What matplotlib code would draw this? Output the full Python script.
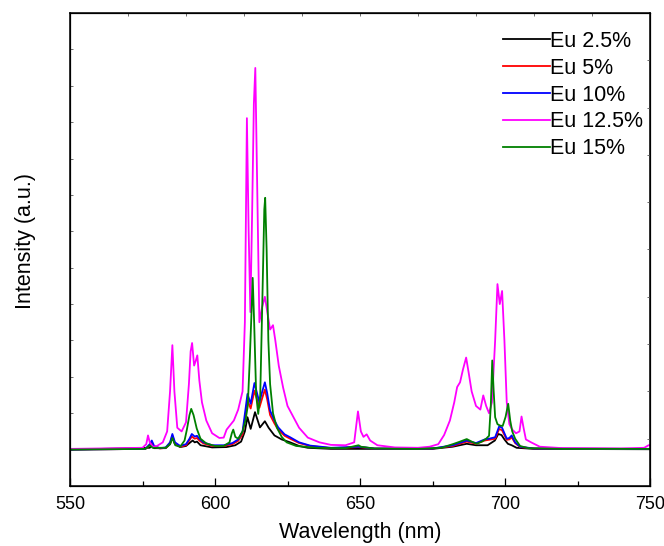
import matplotlib
matplotlib.use("Agg")
import matplotlib.pyplot as plt
import numpy as np

plt.rcParams["font.family"] = ["Liberation Sans", "DejaVu Sans"]

# ── data (intensity in arbitrary units) ───────────────────────────────────────
wl_25 = [550, 577.5, 578.2, 579, 583, 584.5, 585.3, 586.2, 588, 590, 591.5, 592.3, 593, 593.8,
         595, 599, 604, 607, 609, 610.3, 611.2, 612.3, 613.8, 615.5, 617.2, 618.5, 620.5, 623,
         625.9, 629, 632, 640, 675, 682, 686.8, 690, 694, 696.5, 697.7, 698.8, 699.8, 701,
         702.3, 704, 710, 750]
int_25 = [0, 0.05, 0.1, 0.04, 0.04, 0.15, 0.34, 0.15, 0.07, 0.1, 0.2, 0.25, 0.2, 0.22,
          0.12, 0.06, 0.07, 0.12, 0.22, 0.5, 0.89, 0.57, 1.03, 0.61, 0.78, 0.6, 0.39, 0.28,
          0.2, 0.1, 0.05, 0.02, 0.02, 0.08, 0.16, 0.12, 0.12, 0.25, 0.43, 0.4, 0.28, 0.16,
          0.12, 0.05, 0.02, 0.01]

wl_5 = [550, 576, 577.5, 578.2, 579, 581, 583, 584.5, 585.3, 586.2, 588, 590, 591.2, 592.0,
        593, 593.8, 594.6, 596, 599, 603, 606, 608, 609.5, 610.5, 611.2, 612.3, 613.6, 615.3,
        616.3, 617.2, 618, 619, 620.5, 621.8, 624, 625.9, 629, 632.8, 640, 649.5, 655, 675,
        682, 686.8, 690, 693, 694.5, 696.6, 698.0, 699, 700.6, 701.5, 702.3, 703.5, 705.2,
        710, 750]
int_5 = [0, 0.02, 0.12, 0.2, 0.08, 0.03, 0.05, 0.17, 0.38, 0.17, 0.08, 0.12, 0.26, 0.36,
         0.3, 0.32, 0.25, 0.17, 0.1, 0.1, 0.15, 0.24, 0.42, 0.95, 1.35, 1.13, 1.62, 1.15,
         1.42, 1.65, 1.38, 0.95, 0.72, 0.55, 0.38, 0.3, 0.18, 0.1, 0.04, 0.07, 0.03, 0.03,
         0.1, 0.22, 0.16, 0.25, 0.27, 0.3, 0.57, 0.53, 0.27, 0.28, 0.34, 0.18, 0.07,
         0.03, 0.02]

wl_10 = wl_5
int_10 = [0, 0.02, 0.15, 0.25, 0.1, 0.04, 0.06, 0.2, 0.43, 0.2, 0.1, 0.15, 0.3, 0.43,
          0.36, 0.38, 0.3, 0.2, 0.12, 0.12, 0.18, 0.28, 0.5, 1.1, 1.53, 1.26, 1.83, 1.3,
          1.6, 1.85, 1.55, 1.07, 0.8, 0.61, 0.42, 0.34, 0.2, 0.11, 0.05, 0.08, 0.03, 0.03,
          0.12, 0.25, 0.18, 0.28, 0.3, 0.34, 0.64, 0.6, 0.3, 0.32, 0.39, 0.2, 0.08,
          0.03, 0.02]

wl_125 = [550, 575, 576.3, 576.9, 577.5, 578.5, 580, 582, 583.5, 584.5, 585.3, 586.0, 587,
          588.5, 590, 591, 591.6, 592.1, 592.8, 593.4, 593.9, 594.6, 595.5, 597, 599, 601.5,
          603, 604, 605, 606.5, 608, 609.5, 610.3, 611.0, 611.6, 612.2, 612.8, 613.4, 613.9,
          614.5, 615.3, 616.2, 617.2, 618.2, 619.0, 620.0, 620.8, 622, 623.5, 625, 627, 629,
          632, 636, 640, 645, 648, 649.3, 650.3, 651.2, 652.3, 653.5, 656, 662, 670, 674, 677,
          679, 681, 682.5, 683.5, 684.5, 685.5, 686.6, 687.5, 688.5, 690, 691.5, 692.5, 693.5,
          694.5, 695.5, 696.6, 697.4, 698.2, 699.0, 699.8, 700.6, 701.5, 702.5, 703.8, 705.0,
          705.7, 706.4, 707.2, 709, 712, 720, 740, 748, 749.5, 750]
int_125 = [0.02, 0.05, 0.15, 0.39, 0.2, 0.08, 0.1, 0.2, 0.5, 1.6, 2.87, 1.6, 0.6,
           0.5, 0.75, 1.8, 2.7, 2.93, 2.31, 2.45, 2.59, 1.9, 1.3, 0.8, 0.45, 0.32,
           0.33, 0.55, 0.65, 0.8, 1.1, 1.6, 3.5, 9.11, 6.0, 3.78, 6.5, 9.5, 10.49,
           7.5, 3.5, 3.9, 4.2, 3.7, 3.3, 3.42, 3.0, 2.3, 1.7, 1.2, 0.9, 0.6,
           0.33, 0.2, 0.13, 0.12, 0.2, 1.05, 0.5, 0.35, 0.42, 0.25, 0.12, 0.06, 0.05, 0.08, 0.15,
           0.4, 0.8, 1.3, 1.72, 1.85, 2.2, 2.53, 2.1, 1.6, 1.2, 1.1, 1.49, 1.2,
           1.0, 1.3, 3.0, 4.55, 4.0, 4.36, 3.0, 1.3, 0.7, 0.55, 0.45, 0.5,
           0.91, 0.6, 0.28, 0.2, 0.08, 0.04, 0.03, 0.05, 0.12, 0.12]

wl_15 = [550, 576, 577.5, 578.5, 583, 584.5, 585.3, 586.3, 588, 589.5, 590.3, 591.2, 591.8,
         592.6, 593.7, 595, 597, 600, 603, 605, 605.8, 606.3, 607, 608, 609.5, 610.5, 611.3,
         612.0, 612.6, 613.0, 613.5, 614.2, 614.9, 615.6, 616.3, 617.0, 617.3, 617.8, 618.4,
         619.0, 620, 621.3, 623, 624.7, 628, 635, 645, 649.5, 650.3, 655, 670, 678, 682,
         684.5, 686.8, 688.5, 690.2, 692, 693.5, 694.5, 695.1, 695.6, 696.1, 696.6, 697.4,
         698.3, 699.2, 700.2, 701.1, 701.8, 702.5, 703.5, 705.2, 708, 720, 750]
int_15 = [0.0, 0.02, 0.12, 0.05, 0.05, 0.15, 0.32, 0.12, 0.08, 0.25, 0.55, 0.95, 1.12,
          0.95, 0.58, 0.3, 0.17, 0.1, 0.1, 0.2, 0.45, 0.55, 0.35, 0.3, 0.5, 0.8, 1.2,
          2.5, 3.8, 4.72, 3.5, 1.5, 0.98, 1.5, 4.0, 6.6, 6.92, 5.5, 3.0,
          1.8, 1.0, 0.61, 0.35, 0.2, 0.1, 0.05, 0.04, 0.12, 0.08, 0.03, 0.02, 0.05, 0.15,
          0.22, 0.29, 0.22, 0.16, 0.22, 0.3, 0.38, 1.2, 2.45, 1.6, 0.89, 0.7,
          0.66, 0.65, 0.9, 1.26, 0.8, 0.5, 0.3, 0.1, 0.04, 0.02, 0.02]

labels = ["Eu 2.5%", "Eu 5%", "Eu 10%", "Eu 12.5%", "Eu 15%"]
colors = ["black", "red", "blue", "magenta", "green"]
series = [(wl_25, int_25), (wl_5, int_5), (wl_10, int_10), (wl_125, int_125), (wl_15, int_15)]

# ── figure ────────────────────────────────────────────────────────────────────
fig = plt.figure(figsize=(6.64, 5.46), dpi=100)
ax = fig.add_axes([70 / 664, 60 / 546, 580 / 664, 473 / 546])

for (wl, inten), lab, col in zip(series, labels, colors):
    ax.plot(wl, inten, color=col, lw=1.3, label=lab)

ax.set_xlim(550, 750)
ax.set_ylim(-1, 12)
ax.set_xticks(np.arange(550, 751, 50))
ax.set_xticks(np.arange(575, 750, 50), minor=True)
ax.set_yticks(np.arange(-1, 13, 1))
ax.set_yticklabels([])
ax.tick_params(axis="x", which="major", direction="in", length=6, width=0.9,
               labelsize=13, pad=7)
ax.tick_params(axis="x", which="minor", direction="in", length=3.5, width=0.9)
ax.tick_params(axis="y", direction="in", length=2, width=0.6, color="#555")
ax.set_xlabel("Wavelength (nm)", fontsize=15.5, labelpad=7)
ax.set_ylabel("Intensity (a.u.)", fontsize=15.5)
ax.yaxis.set_label_coords(-0.059, 0.517)
for sp in ax.spines.values():
    sp.set_linewidth(1.1)

# top / right ticks from the linked axes
ax_top = ax.twiny()
ax_top.set_xlim(550, 750)
ax_top.set_xticks(np.arange(550, 751, 20))
ax_top.tick_params(axis="x", direction="in", length=2, width=0.6, color="#555",
                   labeltop=False)
ax_right = ax.twinx()
ax_right.set_ylim(0, 10)
ax_right.set_yticks(np.arange(0, 11, 1))
ax_right.tick_params(axis="y", direction="in", length=2, width=0.6, color="#555",
                     labelright=False)

ax.legend(loc="upper left", bbox_to_anchor=((503 - 70) / 580, (486 - 31) / 473),
          frameon=False, fontsize=15.5, handlelength=2.2, handletextpad=0.0,
          labelspacing=0.27, borderpad=0, borderaxespad=0)

plt.savefig("out.png", dpi=100)
plt.close()
